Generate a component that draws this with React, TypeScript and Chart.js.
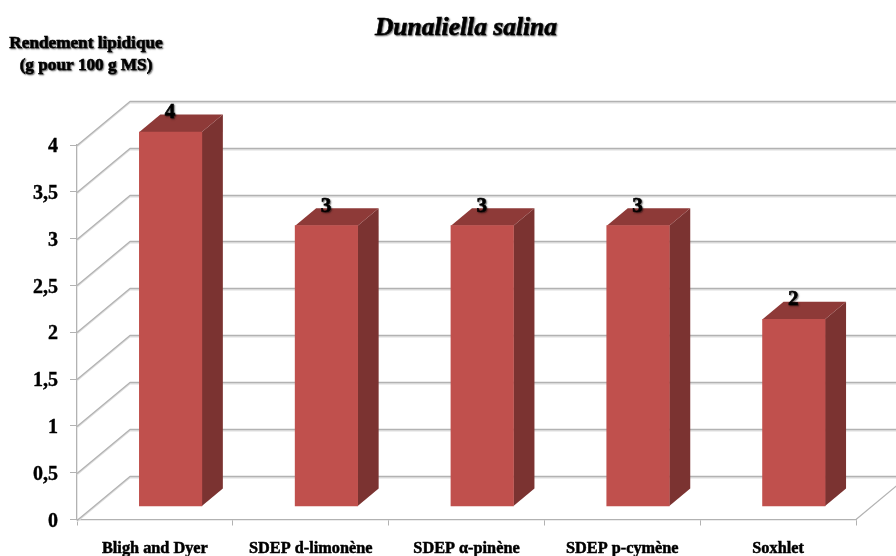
import React, { useEffect, useRef } from "react";
import { Chart, registerables } from "chart.js";

Chart.register(...registerables);

const categories = ["Bligh and Dyer", "SDEP d-limonène", "SDEP α-pinène", "SDEP p-cymène", "Soxhlet"];
const yields = [4, 3, 3, 3, 2];
const chartTitle = "Dunaliella salina";
const axisTitleLines = ["Rendement lipidique", "(g pour 100 g MS)"];

const SERIF = '"Liberation Serif", serif';
const WALL_DX = 53;
const WALL_DY = -44;
const BAR_DX = 15.7;
const BAR_DY = -13;
const SIDE_DX = 21;
const SIDE_DY = -17.5;

function smearText(ctx: CanvasRenderingContext2D, text: string, x: number, y: number, font: string) {
  ctx.save();
  ctx.font = font;
  ctx.fillStyle = "#000";
  ctx.strokeStyle = "#000";
  ctx.lineWidth = 0.6;
  ctx.textAlign = "center";
  ctx.textBaseline = "middle";
  ctx.shadowColor = "rgba(0,0,0,0.5)";
  ctx.shadowBlur = 1.5;
  ctx.shadowOffsetX = 1;
  ctx.shadowOffsetY = 1;
  ctx.fillText(text, x, y);
  ctx.strokeText(text, x, y);
  ctx.restore();
}

function line(ctx: CanvasRenderingContext2D, pts: number[][], color: string, width: number) {
  ctx.beginPath();
  ctx.strokeStyle = color;
  ctx.lineWidth = width;
  pts.forEach(([x, y], i) => (i ? ctx.lineTo(x, y) : ctx.moveTo(x, y)));
  ctx.stroke();
}

const bars3d = {
  id: "bars3d",
  beforeDatasetsDraw(chart: any) {
    const { ctx, scales, width } = chart;
    const yS = scales.y;
    const xS = scales.x;
    const left = xS.left;
    ctx.save();
    ctx.lineJoin = "round";
    yS.ticks.forEach((t: any) => {
      const y = Math.round(yS.getPixelForValue(t.value)) + 0.5;
      const pts = [
        [left, y],
        [left + WALL_DX, y + WALL_DY],
        [width, y + WALL_DY],
      ];
      line(ctx, pts.map(([a, b]) => [a, b + 1.3]), "#dedede", 1.3);
      line(ctx, pts, "#b2b2b2", 1.3);
    });
    const y0 = yS.getPixelForValue(0);
    line(ctx, [[xS.right, y0], [xS.right + WALL_DX, y0 + WALL_DY]], "#b2b2b2", 1.2);

    chart.getDatasetMeta(0).data.forEach((bar: any) => {
      const hw = bar.width / 2;
      const xR = bar.x + hw + BAR_DX;
      const xL = bar.x - hw + BAR_DX;
      const yT = bar.y + BAR_DY;
      const yB = bar.base + BAR_DY;
      ctx.fillStyle = "#7b3331";
      ctx.beginPath();
      ctx.moveTo(xR, yT);
      ctx.lineTo(xR + SIDE_DX, yT + SIDE_DY);
      ctx.lineTo(xR + SIDE_DX, yB + SIDE_DY);
      ctx.lineTo(xR, yB);
      ctx.closePath();
      ctx.fill();
      ctx.fillStyle = "#8e3a38";
      ctx.beginPath();
      ctx.moveTo(xL, yT);
      ctx.lineTo(xL + SIDE_DX, yT + SIDE_DY);
      ctx.lineTo(xR + SIDE_DX, yT + SIDE_DY);
      ctx.lineTo(xR, yT);
      ctx.closePath();
      ctx.fill();
    });
    ctx.restore();
    ctx.save();
    ctx.translate(BAR_DX, BAR_DY);
  },
  afterDatasetsDraw(chart: any) {
    const { ctx } = chart;
    ctx.restore();
    const font = `bold 21px ${SERIF}`;
    chart.getDatasetMeta(0).data.forEach((bar: any, i: number) => {
      smearText(ctx, String(yields[i]), bar.x + BAR_DX - 0.5, bar.y + BAR_DY - 19.5, font);
    });
    smearText(ctx, chartTitle, 466, 28, `italic bold 25.5px ${SERIF}`);
    smearText(ctx, axisTitleLines[0], 86, 44, `bold 17.2px ${SERIF}`);
    smearText(ctx, axisTitleLines[1], 86, 65.5, `bold 17.2px ${SERIF}`);
  },
};

export default function App() {
  const ref = useRef<HTMLCanvasElement>(null);
  useEffect(() => {
    const chart = new Chart(ref.current!, {
      type: "bar",
      data: {
        labels: categories,
        datasets: [
          {
            data: yields,
            backgroundColor: "#c0504d",
            borderWidth: 0,
            barThickness: 62.5,
            clip: false,
          } as any,
        ],
      },
      plugins: [bars3d as any],
      options: {
        responsive: false,
        animation: false,
        layout: { padding: { left: 0, top: 145, right: 40, bottom: 0 } },
        plugins: { legend: { display: false }, tooltip: { enabled: false } },
        scales: {
          x: {
            afterFit: (s: any) => {
              s.height = 36.5;
            },
            border: { color: "#b2b2b2", width: 1.3 },
            grid: { drawOnChartArea: false, color: "#b2b2b2", tickLength: 6, offset: true },
            ticks: {
              color: "#000",
              padding: 14,
              maxRotation: 0,
              autoSkip: false,
              font: { family: SERIF, weight: "bold", size: 16.3 },
              textStrokeColor: "#000",
              textStrokeWidth: 0.5,
            },
          },
          y: {
            min: 0,
            max: 4,
            afterFit: (s: any) => {
              s.width = 77;
            },
            border: { color: "#b2b2b2", width: 1.3 },
            grid: { drawOnChartArea: false, color: "#b2b2b2", tickLength: 7 },
            ticks: {
              stepSize: 0.5,
              color: "#000",
              padding: 12,
              labelOffset: 2,
              callback: (v: any) => String(v).replace(".", ","),
              font: { family: SERIF, weight: "bold", size: 20 },
              textStrokeColor: "#000",
              textStrokeWidth: 0.4,
            },
          },
        },
      } as any,
    });
    return () => chart.destroy();
  }, []);
  return (
    <div style={{ position: "fixed", left: 0, top: 0, width: 896, height: 556, background: "#fff" }}>
      <canvas ref={ref} width={896} height={556} style={{ display: "block" }} />
    </div>
  );
}
